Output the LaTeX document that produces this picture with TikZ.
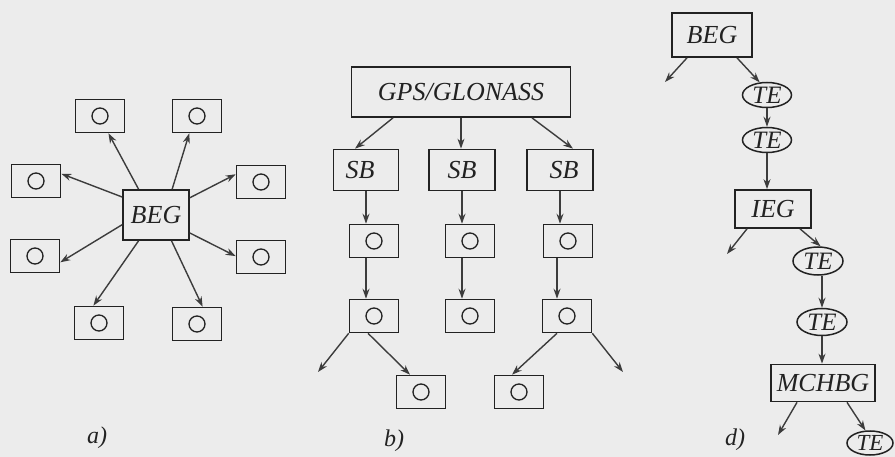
\documentclass[tikz,border=0pt]{standalone}
\usepackage{fontspec}
\setmainfont{Liberation Serif}
\usetikzlibrary{arrows.meta,shapes.geometric,calc}
\definecolor{bg}{HTML}{ECECEC}
\definecolor{ink}{HTML}{222222}
\definecolor{wire}{HTML}{3C3C3C}
\begin{document}
\begin{tikzpicture}[x=1pt,y=-1pt,
 box/.style={draw=ink,line width=1.7pt,inner sep=2pt,font=\fontsize{26}{28}\selectfont\itshape,text=ink},
 obox/.style={draw=ink,line width=1.6pt,minimum width=49pt,minimum height=33pt,inner sep=0pt,
   path picture={\draw[ink,line width=1.3pt] (path picture bounding box.center) circle (8pt);}},
 te/.style={ellipse,draw=ink,line width=1.5pt,inner sep=0pt,minimum width=49pt,minimum height=25pt,
   font=\fontsize{25}{27}\selectfont\itshape,text=ink},
 arr/.style={draw=wire,line width=1.4pt,-{Stealth[length=10pt,width=7pt]}},
 lab/.style={font=\fontsize{24}{26}\selectfont\itshape,text=ink}
]
\fill[bg] (0,0) rectangle (895,457);
\useasboundingbox (0,0) rectangle (895,457);
\clip (0,0) rectangle (895,457);

% ---------- a) ----------
\node[box,minimum width=66pt,minimum height=50pt] (beg) at (156,215) {BEG};
\node[obox] (tl) at (100,116) {};
\node[obox] (tr) at (197,116) {};
\node[obox] (lu) at (36,181) {};
\node[obox] (ru) at (261,182) {};
\node[obox] (ll) at (35,256) {};
\node[obox] (rl) at (261,257) {};
\node[obox] (bl) at (99,323) {};
\node[obox] (br) at (197,324) {};
\draw[arr] (beg.124) -- (tl.-64);
\draw[arr] (beg.58) -- (tr.-114);
\draw[arr] (beg.152) -- (lu.16);
\draw[arr] (beg.27) -- (ru.163);
\draw[arr] (beg.-164) -- (ll.-14);
\draw[arr] (beg.-28) -- (rl.178);
\draw[arr] (beg.-124) -- (bl.108);
\draw[arr] (beg.-59) -- (br.72);
\node[lab] (la) at (97,438) {a)};

% ---------- b) ----------
\node[box,minimum width=219pt,minimum height=50pt] (gps) at (461,92) {GPS/GLONASS};
\node[box,minimum width=65pt,minimum height=41pt] (sb1) at (366,170) {SB\kern12pt};
\node[box,minimum width=66pt,minimum height=41pt] (sb2) at (462,170) {SB};
\node[box,minimum width=66pt,minimum height=41pt] (sb3) at (560,170) {\kern8pt SB};
\node[obox] (b11) at (374,241) {};
\node[obox] (b12) at (470,241) {};
\node[obox] (b13) at (568,241) {};
\node[obox] (b21) at (374,316) {};
\node[obox] (b22) at (470,316) {};
\node[obox] (b23) at (567,316) {};
\node[obox] (b31) at (421,392) {};
\node[obox] (b32) at (519,392) {};
\coordinate (fl) at (318,372);
\coordinate (fr) at (623,372);
\draw[arr] ($(gps.south)+(-68,0)$) -- ($(sb1.north)+(-11,0)$);
\draw[arr] (gps.south) -- (gps.south |- sb2.north);
\draw[arr] ($(gps.south)+(71,0)$) -- ($(sb3.north)+(13,0)$);
\draw[arr] (sb1.south) -- (sb1.south |- b11.north);
\draw[arr] (sb2.south) -- (sb2.south |- b12.north);
\draw[arr] (sb3.south) -- (sb3.south |- b13.north);
\draw[arr] (sb1.south |- b11.south) -- (sb1.south |- b21.north);
\draw[arr] (sb2.south |- b12.south) -- (sb2.south |- b22.north);
\draw[arr] ($(b13.south)+(-11,0)$) -- ($(b23.north)+(-10,0)$);
\draw[arr] (b21.south west) -- (fl);
\draw[arr] ($(b21.south)+(-6,0)$) -- ($(b31.north)+(-11,0)$);
\draw[arr] ($(b23.south)+(-10,0)$) -- ($(b32.north)+(-7,0)$);
\draw[arr] (b23.south east) -- (fr);
\node[lab] (lb) at (394,441) {b)};

% ---------- d) ----------
\node[box,minimum width=80pt,minimum height=44pt] (dbeg) at (712,35) {BEG};
\node[te] (te1) at (767,95) {TE};
\node[te] (te2) at (767,140) {TE};
\node[box,minimum width=76pt,minimum height=38pt] (ieg) at (773,209) {IEG};
\node[te,minimum width=50pt,minimum height=28pt] (te3) at (818,261) {TE};
\node[te,minimum width=50pt,minimum height=27pt] (te4) at (822,322) {TE};
\node[box,minimum width=104pt,minimum height=37pt,inner sep=1pt] (mch) at (823,383) {MCHBG};
\node[te,minimum width=46pt,minimum height=24pt,font=\fontsize{23}{25}\selectfont\itshape] (te5) at (870,443) {TE};
\coordinate (d1) at (665,82);
\coordinate (d2) at (727,254);
\coordinate (d3) at (778,435);
\draw[arr] ($(dbeg.south)+(-25,0)$) -- (d1);
\draw[arr] ($(dbeg.south)+(25,0)$) -- (te1.120);
\draw[arr] (te1.south) -- (te2.north);
\draw[arr] (te2.south) -- (te2.south |- ieg.north);
\draw[arr] ($(ieg.south)+(-26,0)$) -- (d2);
\draw[arr] ($(ieg.south)+(27,0)$) -- (te3.80);
\draw[arr] (te4.north |- te3.south) -- (te4.north);
\draw[arr] (te4.south) -- (te4.south |- mch.north);
\draw[arr] ($(mch.south)+(-26,0)$) -- (d3);
\draw[arr] ($(mch.south)+(24,0)$) -- (te5.110);
\node[lab] (ld) at (735,440) {d)};
\end{tikzpicture}
\end{document}
